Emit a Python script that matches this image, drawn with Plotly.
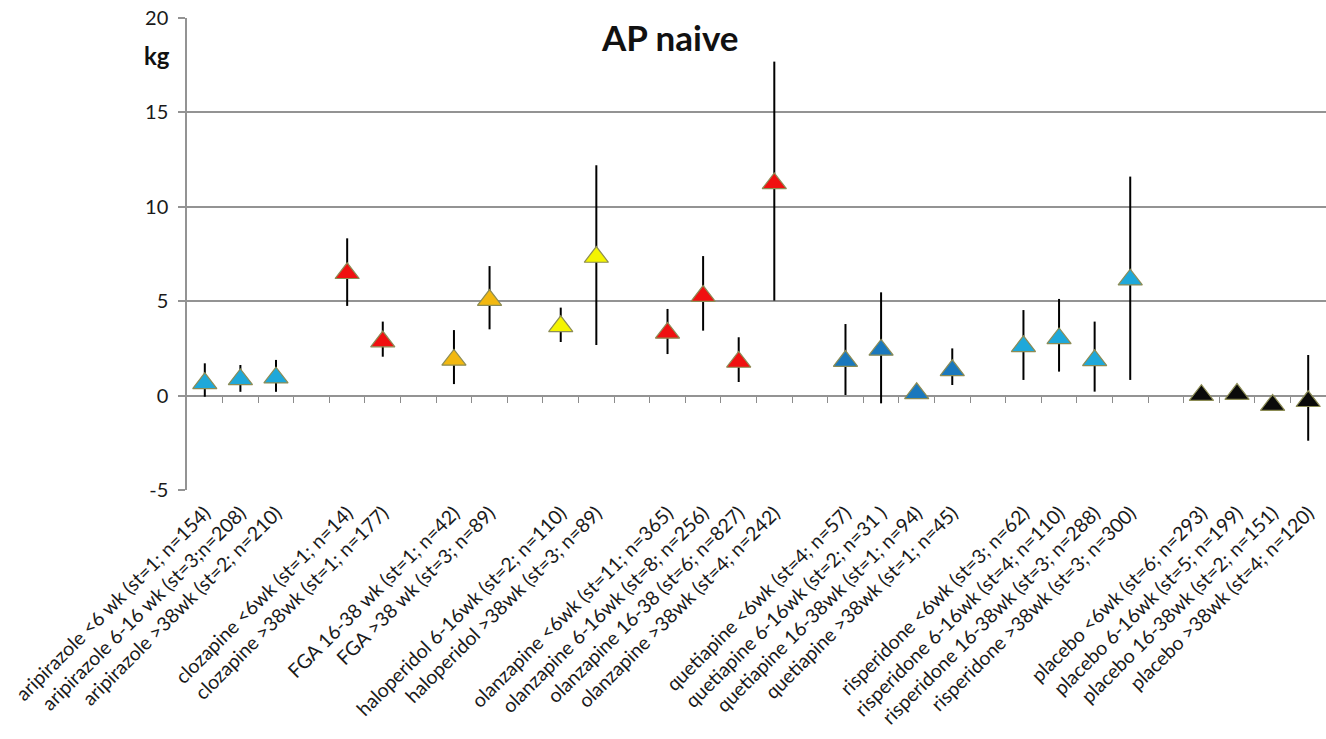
import plotly.graph_objects as go

# ---- data (None = gap slot between drug groups) ----
labels = [
    "aripirazole <6 wk (st=1; n=154)", "aripirazole 6-16 wk (st=3;n=208)", "aripirazole >38wk (st=2; n=210)", "",
    "clozapine <6wk (st=1; n=14)", "clozapine >38wk (st=1; n=177)", "",
    "FGA 16-38 wk (st=1; n=42)", "FGA >38 wk (st=3; n=89)", "",
    "haloperidol 6-16wk (st=2; n=110)", "haloperidol >38wk (st=3; n=89)", "",
    "olanzapine <6wk (st=11; n=365)", "olanzapine 6-16wk (st=8; n=256)", "olanzapine 16-38 (st=6; n=827)", "olanzapine >38wk (st=4; n=242)", "",
    "quetiapine <6wk (st=4; n=57)", "quetiapine 6-16wk (st=2; n=31 )", "quetiapine 16-38wk (st=1; n=94)", "quetiapine >38wk (st=1; n=45)", "",
    "risperidone <6wk (st=3; n=62)", "risperidone 6-16wk (st=4; n=110)", "risperidone 16-38wk (st=3; n=288)", "risperidone >38wk (st=3; n=300)", "",
    "placebo <6wk (st=6; n=293)", "placebo 6-16wk (st=5; n=199)", "placebo 16-38wk (st=2; n=151)", "placebo >38wk (st=4; n=120)",
]
values = [
    0.65, 0.86, 0.95, None,
    6.48, 2.86, None,
    1.89, 5.06, None,
    3.67, 7.34, None,
    3.32, 5.27, 1.78, 11.24, None,
    1.83, 2.42, 0.12, 1.34, None,
    2.61, 3.03, 1.87, 6.14, None,
    0.02, 0.08, -0.50, -0.30,
]
upper = [
    1.71, 1.62, 1.89, None,
    8.33, 3.92, None,
    3.47, 6.86, None,
    4.66, 12.2, None,
    4.59, 7.39, 3.09, 17.69, None,
    3.79, 5.47, 0.12, 2.50, None,
    4.53, 5.12, 3.92, 11.6, None,
    0.02, 0.08, -0.50, 2.15,
]
lower = [
    -0.06, 0.20, 0.20, None,
    4.75, 2.06, None,
    0.61, 3.51, None,
    2.84, 2.68, None,
    2.20, 3.44, 0.72, 5.03, None,
    0.03, -0.41, 0.12, 0.56, None,
    0.83, 1.27, 0.21, 0.83, None,
    0.02, 0.08, -0.50, -2.39,
]
CY, RD, OR, YL, DB, BK = "#1fa8da", "#f01010", "#f2b810", "#f4f400", "#1a78bd", "#0a0a0a"
colors = [
    CY, CY, CY, CY,
    RD, RD, RD,
    OR, OR, OR,
    YL, YL, YL,
    RD, RD, RD, RD, RD,
    DB, DB, DB, DB, DB,
    CY, CY, CY, CY, CY,
    BK, BK, BK, BK,
]
y_ticks = [-5, 0, 5, 10, 15, 20]
y_tick_text = ["-5", "0", "5", "10", "15", "20"]

xs = list(range(len(labels)))
err_plus = [None if v is None else u - v for v, u in zip(values, upper)]
err_minus = [None if v is None else v - l for v, l in zip(values, lower)]

FONT = "Lato"
fig = go.Figure()
fig.add_trace(go.Scatter(
    x=xs, y=values, mode="markers",
    marker=dict(symbol="triangle-up", size=21, color=colors,
                line=dict(color="#8c8c55", width=1.2)),
    error_y=dict(type="data", symmetric=False, array=err_plus, arrayminus=err_minus,
                 color="#000000", thickness=2.0, width=0),
    showlegend=False, hoverinfo="skip",
))
# helper trace for the tick marks on the zero line
fig.add_trace(go.Scatter(x=[0], y=[0], xaxis="x2", mode="markers",
                         marker=dict(opacity=0), showlegend=False, hoverinfo="skip"))

n = len(labels)
fig.update_layout(
    width=1326, height=739,
    margin=dict(l=187, r=0, t=18, b=249),
    paper_bgcolor="white", plot_bgcolor="white",
    font=dict(family=FONT, color="#1a1a1a"),
    xaxis=dict(range=[-0.5, n - 0.5], tickmode="array", tickvals=xs, ticktext=labels,
               tickangle=-45, tickfont=dict(size=19.5, family=FONT, color="#1a1a1a"),
               showgrid=False, zeroline=False, showline=False, ticks="",
               ticklabelstandoff=7, automargin=False, ticklabeloverflow="allow"),
    xaxis2=dict(range=[-0.5, n - 0.5], overlaying="x", anchor="free", position=0.2,
                tickmode="array", tickvals=[i + 0.5 for i in range(n - 1)],
                ticks="outside", ticklen=6, tickcolor="#8c8c8c", tickwidth=1.3,
                showticklabels=False, showgrid=False, zeroline=False, showline=False,
                automargin=False),
    yaxis=dict(range=[-5, 20], tickmode="array", tickvals=y_ticks, ticktext=y_tick_text,
               tickfont=dict(size=20, family=FONT, color="#1a1a1a"),
               showgrid=True, gridcolor="#939393", gridwidth=1.5,
               zeroline=False, showline=True, linecolor="#939393", linewidth=1.5,
               ticks="outside", ticklen=7, tickcolor="#939393", tickwidth=1.5,
               ticklabelstandoff=6, automargin=False, ticklabeloverflow="allow"),
    annotations=[
        dict(text="<b>AP naive</b>", xref="paper", yref="paper", x=0.424, y=0.96,
             showarrow=False, font=dict(size=35, family=FONT, color="#111111"),
             xanchor="center", yanchor="middle"),
        dict(text="<b>kg</b>", xref="paper", yref="paper", x=-0.026, y=0.92,
             showarrow=False, font=dict(size=24, family=FONT, color="#111111"),
             xanchor="center", yanchor="middle"),
    ],
)
# remove the browser's default 8px page margin so the figure fills the window
fig.write_html("out.html", config={"displayModeBar": False},
               post_script="document.body.style.margin='0px';document.body.style.overflow='hidden';")
